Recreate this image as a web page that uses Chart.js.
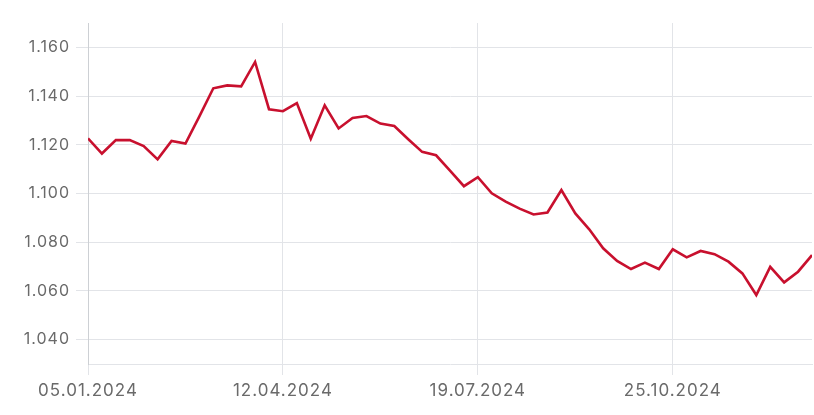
<!DOCTYPE html>
<html>
<head>
<meta charset="utf-8">
<script src="https://cdn.jsdelivr.net/npm/chart.js@4/dist/chart.umd.min.js"></script>
<style>
  html, body { margin: 0; padding: 0; background: #fff; }
  #wrap { width: 814px; height: 415px; }
</style>
</head>
<body>
<div id="wrap"><canvas id="c" width="814" height="415"></canvas></div>
<script>
// Weekly index (0 = 05.01.2024)
const weeks = Array.from({length: 53}, (_, i) => i);
const values = [
  1.1226, 1.1164, 1.1219, 1.1219, 1.1195, 1.1140, 1.1216, 1.1205, 1.1317, 1.1432,
  1.1444, 1.1440, 1.1540, 1.1346, 1.1338, 1.1371, 1.1225, 1.1362, 1.1267, 1.1310,
  1.1318, 1.1287, 1.1277, 1.1223, 1.1171, 1.1157, 1.1094, 1.1030, 1.1067, 1.1001,
  1.0967, 1.0938, 1.0914, 1.0922, 1.1014, 1.0918, 1.0853, 1.0775, 1.0723, 1.0690,
  1.0716, 1.0690, 1.0771, 1.0738, 1.0764, 1.0751, 1.0720, 1.0672, 1.0583, 1.0699,
  1.0635, 1.0679, 1.0747
];
const xTickWeeks = [0, 14, 28, 42];
const xTickLabels = ['05.01.2024', '12.04.2024', '19.07.2024', '25.10.2024'];
const yTicks = [1.04, 1.06, 1.08, 1.10, 1.12, 1.14, 1.16];

const gridColor = '#e2e4e8';
const labelColor = '#6a6a6a';
const fontFamily = 'Inter, "DejaVu Sans", sans-serif';

const spacing = {
  id: 'spacing',
  beforeInit(chart) { chart.ctx.letterSpacing = '1px'; },
  beforeDraw(chart) { chart.ctx.letterSpacing = '1px'; }
};

new Chart(document.getElementById('c'), {
  type: 'line',
  data: {
    datasets: [{
      data: weeks.map((w, i) => ({ x: w, y: values[i] })),
      borderColor: '#c8102e',
      borderWidth: 2.6,
      pointRadius: 0,
      tension: 0,
      fill: false
    }]
  },
  options: {
    responsive: false,
    animation: false,
    layout: { padding: { top: 23, right: 2, left: 0, bottom: 0 } },
    plugins: { legend: { display: false }, tooltip: { enabled: false } },
    scales: {
      x: {
        type: 'linear',
        min: 0,
        max: 52,
        afterBuildTicks(scale) { scale.ticks = xTickWeeks.map(v => ({ value: v })); },
        afterFit(scale) { scale.height = 51; },
        ticks: {
          autoSkip: false,
          maxRotation: 0,
          padding: 6,
          color: labelColor,
          font: { family: fontFamily, size: 17 },
          callback(v) { const k = xTickWeeks.indexOf(v); return k >= 0 ? xTickLabels[k] : ''; }
        },
        grid: { color: gridColor, lineWidth: 1, tickLength: 11, drawTicks: true },
        border: { color: gridColor, width: 1 }
      },
      y: {
        type: 'linear',
        min: 1.03,
        max: 1.17,
        afterBuildTicks(scale) { scale.ticks = yTicks.map(v => ({ value: v })); },
        afterFit(scale) { scale.width = 88; },
        ticks: {
          padding: 6,
          color: labelColor,
          font: { family: fontFamily, size: 16 },
          callback(v) { return v.toFixed(3); }
        },
        grid: { color: gridColor, lineWidth: 1, tickLength: 12, drawTicks: true },
        border: { color: '#cdd0d4', width: 1 }
      }
    }
  },
  plugins: [spacing]
});
</script>
</body>
</html>
